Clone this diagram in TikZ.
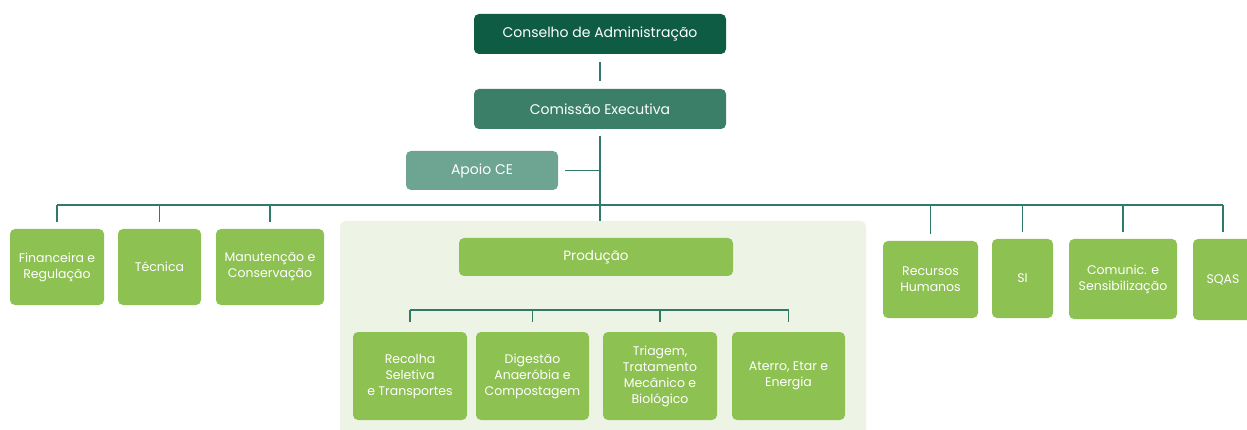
\documentclass[tikz,border=0pt]{standalone}
\usepackage{fontspec}
\setmainfont{Poppins}
\usetikzlibrary{positioning,calc}
\definecolor{Board}{HTML}{0F5C45}
\definecolor{Exec}{HTML}{3C7F69}
\definecolor{Support}{HTML}{6EA592}
\definecolor{Leaf}{HTML}{8DC152}
\definecolor{Meadow}{HTML}{EEF4E5}
\definecolor{Wire}{HTML}{2F7A68}

\begin{document}
\begin{tikzpicture}[x=1pt,y=-1pt,
  box/.style={rounded corners=5pt,inner sep=0pt,align=center,text=white},
  topbox/.style={box,minimum width=252pt,minimum height=40pt,font=\fontsize{14}{16}\selectfont},
  unitbox/.style={box,fill=Leaf,font=\fontsize{12.5}{16}\selectfont},
  wire/.style={draw=Wire,line width=1.3pt}]
  \clip (0,0) rectangle (1247,430);
  \fill[white] (0,0) rectangle (1247,430);
  \node[topbox,fill=Board] (ca) at (600,34) {Conselho de Administração};
  \node[topbox,fill=Exec] (ce) at (600,109) {Comissão Executiva};
  \node[topbox,fill=Support,minimum width=152pt,minimum height=39pt] (apoio) at (482,170.5) {Apoio CE};
  \node[fill=Meadow,rounded corners=6pt,minimum width=526pt,minimum height=219pt,inner sep=0pt] (panel) at (603,330.5) {};
  \node[unitbox,minimum width=94pt,minimum height=76pt] (fin) at (57,267) {Financeira e\\Regulação};
  \node[unitbox,minimum width=83pt,minimum height=76pt] (tec) at (159.5,267) {Técnica};
  \node[unitbox,minimum width=108pt,minimum height=76pt] (man) at (270,267) {Manutenção e\\Conservação};
  \node[unitbox,minimum width=274pt,minimum height=38pt,font=\fontsize{13.5}{16}\selectfont] (prod) at (596,257) {Produção};
  \node[unitbox,minimum width=114pt,minimum height=88pt] (rec) at (410,376) {Recolha\\Seletiva\\e Transportes};
  \node[unitbox,minimum width=113pt,minimum height=88pt] (dig) at (532.5,376) {Digestão\\Anaeróbia e\\Compostagem};
  \node[unitbox,minimum width=114pt,minimum height=88pt] (tri) at (660,376) {Triagem,\\Tratamento\\Mecânico e\\Biológico};
  \node[unitbox,minimum width=113pt,minimum height=88pt] (ate) at (788.5,376) {Aterro, Etar e\\Energia};
  \node[unitbox,minimum width=95pt,minimum height=77pt] (rh) at (930.5,279.5) {Recursos\\Humanos};
  \node[unitbox,minimum width=61pt,minimum height=79pt] (si) at (1022.5,278.5) {SI};
  \node[unitbox,minimum width=108pt,minimum height=80pt] (com) at (1123,279) {Comunic. e\\Sensibilização};
  \node[unitbox,minimum width=60pt,minimum height=81pt] (sqas) at (1223,279.5) {SQAS};
  \coordinate (bus) at (600,205);
  \coordinate (subbus) at (600,310);
  \draw[wire,shorten <=8pt,shorten >=8pt] (ca) -- (ce);
  \draw[wire,shorten <=7pt] (ce.south) -- (ce.south |- panel.north);
  \draw[wire,shorten <=7pt] (apoio.east) -- (apoio.east -| ce);
  \draw[wire] (fin.north |- bus) -- (sqas.north |- bus);
  \foreach \unit in {fin,tec,man,rh,si,com,sqas}
    \draw[wire,shorten >=7pt] (\unit.north |- bus) -- (\unit.north);
  \draw[wire] (rec.north |- subbus) -- (ate.north |- subbus);
  \foreach \unit in {rec,dig,tri,ate}
    \draw[wire,shorten >=10pt] (\unit.north |- subbus) -- (\unit.north);
\end{tikzpicture}
\end{document}
